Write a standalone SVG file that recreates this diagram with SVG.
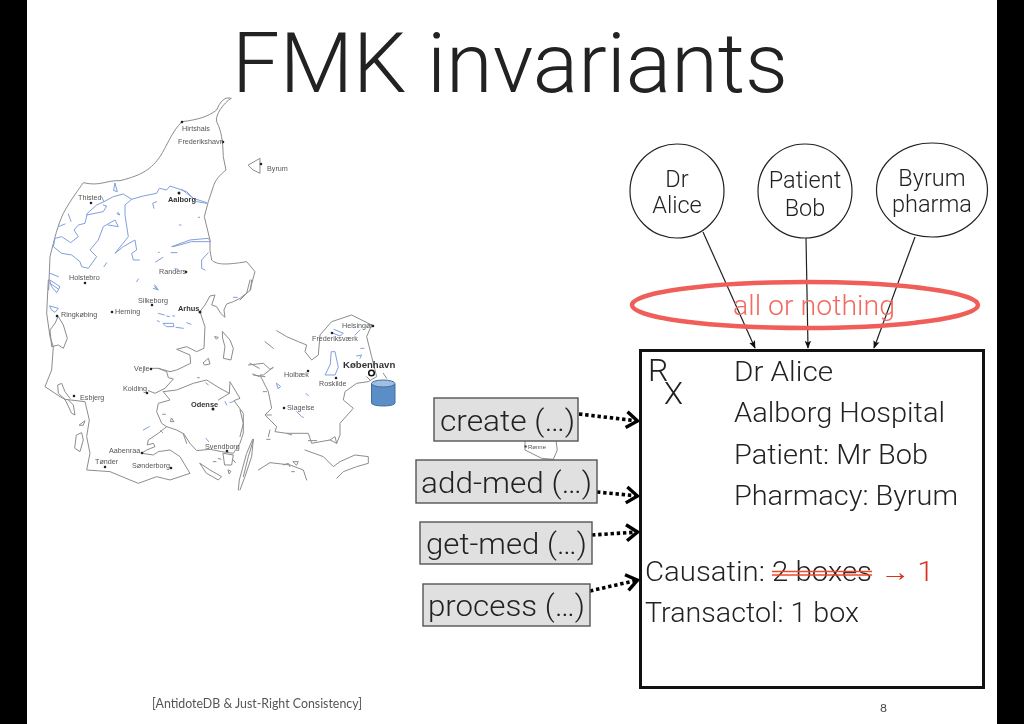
<svg xmlns="http://www.w3.org/2000/svg" width="1024" height="724" viewBox="0 0 1024 724">
<defs>
<style>
.coast{fill:none;stroke:#8c8c8c;stroke-width:3;stroke-linejoin:round;stroke-linecap:round}
.lake{fill:none;stroke:#7f9fdc;stroke-width:3;stroke-linejoin:round;stroke-linecap:round}
.city{font:7.2px "Liberation Sans",Arial,sans-serif;fill:#555}
.big{font:bold 7.4px "Liberation Sans",Arial,sans-serif;fill:#333}
.dot{fill:#222}
.t{font-family:"Roboto","Liberation Sans",Arial,sans-serif;font-weight:300;fill:#222}
.rx{font-size:27px}
.op{fill:#e0e0e0;stroke:#555;stroke-width:1.4}
.opt{font-size:29px}
.act{fill:#fff;stroke:#222;stroke-width:1.2}
.actt{font-size:23.5px;text-anchor:middle}
.arr{fill:none;stroke:#222;stroke-width:1.2;marker-end:url(#thin)}
.dots{fill:none;stroke:#000;stroke-width:3.6;stroke-dasharray:3.4 2.8;marker-end:url(#open)}
</style>
<marker id="thin" viewBox="0 0 10 10" refX="9" refY="5" markerUnits="userSpaceOnUse" markerWidth="8" markerHeight="8" orient="auto"><path d="M0,1 L10,5 L0,9 L2,5 z" fill="#111"/></marker>
<marker id="open" viewBox="0 0 16 20" refX="14.500" refY="10" markerUnits="userSpaceOnUse" markerWidth="16" markerHeight="20" orient="auto"><path d="M3,2 L14,10 L3,18" fill="none" stroke="#000" stroke-width="3.4"/></marker>
<filter id="soft" x="-2%" y="-2%" width="104%" height="104%"><feGaussianBlur stdDeviation="0.3"/></filter>
</defs>
<rect width="1024" height="724" fill="#fff"/>
<rect x="0" y="0" width="27" height="724" fill="#000"/>
<rect x="997" y="0" width="27" height="724" fill="#000"/>
<text id="title" class="t" x="232" y="92" font-size="84" textLength="556" lengthAdjust="spacingAndGlyphs">FMK invariants</text>

<g id="map" filter="url(#soft)">
<g id="map-north" transform="translate(0,90) scale(.3333)">
<path class="coast" d="M693,25 C675,18 660,35 650,60 C625,80 590,90 546,95 C515,125 500,170 480,200 C455,235 430,255 360,272 C320,270 300,290 250,278 C235,300 215,325 190,370 C172,410 165,440 150,500 L146,600"/>
<path class="coast" d="M693,25 C670,40 645,75 650,95 C665,125 668,150 670,200 L678,240 C660,255 645,270 640,290 L625,335 L613,380 L630,450 L630,480 L635,510 C650,525 680,525 740,515 L765,545 L750,600"/>
<path class="coast" d="M745,225 L780,205 L780,250 L760,240 z"/>
<path class="lake" d="M620,340 L590,335 L560,305 L510,288 L500,300 L478,295 L470,310 L430,318 L395,328 L375,345 L375,375 L385,440 L365,465 L345,490 L370,470 L405,450 L410,480 L395,490 L400,510 L418,510"/>
<path class="lake" d="M395,328 L370,312 L340,320 L312,335 L305,320 M312,335 L290,345 L262,370 L255,400 L235,405 L222,420 L235,440 L212,458 L185,440 L165,445 L160,470 L185,490 L215,495 L240,515 L245,530 L265,535 L290,500 L270,480 L295,450 L310,410 L345,390 L355,410 L325,405 M260,375 L310,365 L320,348 L310,345 M620,338 L580,325 L545,298 M462,355 L458,340 L470,335"/>
<path class="lake" d="M345,280 L352,305 L342,302 z M205,372 L213,394 M175,410 L195,402 M320,518 L312,530 M467,516 L489,502 M515,470 L570,450 L625,445 L632,455 L575,455 L520,470 M513,488 L531,488 M625,488 L605,510 L605,535 L615,540 M595,382 h4 M538,405 h5 M475,487 h3 M410,575 l5,-8 M463,588 l8,10 M150,550 L175,560 M150,580 L175,597 M525,536 L535,538 M355,368 L360,375 L352,372 z"/>
</g>
<g id="map-mid" transform="translate(30,280) scale(.3333)">
<path class="coast" d="M55,0 L50,100 L60,170 L70,200 L65,270 L45,320 L90,350 L105,358 M105,358 L165,365 L178,420 L170,470 L180,520 L170,570 L240,575 L300,600 L325,610 L380,590 L400,595 L420,600 L450,590 L480,580 L450,530 L420,510 L385,515 L370,525 L335,520 L350,510 L375,500 L370,490 L352,495 L355,480 L385,460 L410,440 L395,430 L380,395 L385,370 L420,360 L400,335 M105,358 L85,340 L83,315 L95,310 L105,335 L120,355 M105,358 L125,400 L135,405 L130,375 L115,360"/>
<path class="coast" d="M665,0 L662,30 L630,55 L610,65 L590,72 L582,90 L585,112 L572,100 L560,80 L545,75 L555,45 L540,48 L525,75 L510,95 L525,140 L522,205 L500,215 L470,200 L440,208 L480,225 L482,250 L440,270 L420,275 L385,265 L365,265 M385,265 L410,275 L415,293 L430,297 L405,325 L375,340 L355,332"/>
<path class="coast" d="M400,335 L440,330 L490,310 L530,300 L570,325 L598,340 L600,305 L630,355 L612,362 L640,400 L640,460 L630,490 L610,520 L575,515 L540,508 L500,512 L480,490 L462,462 L440,450 L410,440 M598,340 L565,360"/>
<path class="coast" d="M85,110 L100,135 L112,175 L100,205 L85,195 L65,200 L60,150 L75,130 z M140,465 L155,458 L160,480 L150,515 L135,505 z M148,435 L165,422 L160,435 z"/>
<path class="coast" d="M578,155 L600,180 L610,205 L603,240 L580,235 L585,200 L578,175 z M520,248 L535,235 L540,252 L525,255 z M555,170 L565,172 L560,177 z M510,550 L540,570 L575,590 L565,600 L530,580 z M580,520 L610,525 L605,555 L585,555 z M668,478 L650,520 L628,600 L625,630 M670,478 L665,530 L645,590 L630,630 M550,545 h8 M565,535 l8,3 M595,570 l8,4 l-5,7 z M460,462 L470,490 M610,540 l6,8 M660,250 L688,265 M668,282 L688,290 M425,415 L432,425 L422,425 z M398,403 h8 M503,293 h5 M528,308 L535,315"/>
<path class="lake" d="M60,0 L90,20 L80,38 L65,20 z M60,78 L85,85 L75,97 L65,90 z M375,15 L385,30 L370,25 M385,100 L403,105 M410,108 L418,110 M428,108 L434,108 M382,122 L388,125 M400,130 L430,130 L432,140 L410,140 z M438,142 L460,145 M470,128 L483,133 M610,52 h12 M340,450 L358,440 M392,452 l6,6 M528,475 l8,10 M585,365 l5,10 M600,368 l10,-3"/>
</g>
<g id="map-east" transform="translate(240,280) scale(.3333)">
<path class="coast" d="M25,255 L70,250 L90,268 L100,262 L70,285 L60,285 L85,335 L95,385 L75,405 L110,440 L105,455 L140,460 L205,460 L215,490 L270,480 L290,490 L300,465 L300,430 L340,385 L310,360 L315,335 L350,310 L385,305 L410,290 L395,230 L380,170 L395,135 L335,105 L275,125 L240,165 L235,225 L215,240 L195,215 L200,195 L175,185 L140,170 L110,152"/>
<path class="coast" d="M75,185 L100,205 M40,285 L75,290 M55,570 L90,548 L150,555 L190,570 L200,600 M195,510 L250,530 L280,560 L300,545 L345,525 L385,530 L385,550 L350,560 L310,575 L290,595 M40,480 L25,530 L10,590 M30,0 L20,40 L0,60 M0,390 L10,430 L0,470 M70,335 h10 M80,405 h14 M140,460 l15,5 M85,470 l5,-20 M80,478 h10 M205,482 h25 M270,480 L285,470 L290,490 M130,555 L145,550 L150,560 M160,545 L175,545 L170,555 z M155,575 h8 M380,290 L390,300 M430,280 L440,295"/>
<path class="lake" d="M275,215 L285,215 L295,262 L285,285 L255,285 L270,255 z M282,148 L310,160 L300,168 L280,160 M345,165 L360,150 M362,205 h10 M350,228 L365,225 L360,235 M110,310 L122,320 L115,325 z M198,340 L206,348 M170,395 L185,410 L190,412"/>
</g>
<g id="map-dots">
<circle class="dot" cx="182" cy="122" r="1.3"/><circle class="dot" cx="223" cy="142" r="1.3"/><circle class="dot" cx="261" cy="164" r="1.3"/><circle class="dot" cx="91" cy="203" r="1.3"/><circle class="dot" cx="179" cy="193" r="1.5"/><circle class="dot" cx="186" cy="272" r="1.3"/><circle class="dot" cx="85" cy="283" r="1.3"/><circle class="dot" cx="57" cy="316" r="1.3"/><circle class="dot" cx="112" cy="312" r="1.3"/><circle class="dot" cx="152" cy="305" r="1.3"/><circle class="dot" cx="200" cy="312" r="1.5"/><circle class="dot" cx="151" cy="369" r="1.3"/><circle class="dot" cx="147" cy="393" r="1.3"/><circle class="dot" cx="74" cy="396" r="1.3"/><circle class="dot" cx="213" cy="409" r="1.5"/><circle class="dot" cx="227" cy="451" r="1.3"/><circle class="dot" cx="142" cy="453" r="1.3"/><circle class="dot" cx="105" cy="467" r="1.3"/><circle class="dot" cx="171" cy="468" r="1.3"/><circle class="dot" cx="373" cy="326" r="1.3"/><circle class="dot" cx="332" cy="333" r="1.3"/><circle class="dot" cx="308" cy="371" r="1.3"/><circle class="dot" cx="336" cy="378" r="1.3"/><circle class="dot" cx="284" cy="408" r="1.3"/>
</g>
<g id="map-labels">
<text class="city" x="182" y="131">Hirtshals</text><text class="city" x="178" y="144">Frederikshavn</text><text class="city" x="267" y="171" font-size="6">Byrum</text><text class="city" x="78" y="200">Thisted</text><text class="big" x="168" y="202">Aalborg</text><text class="city" x="159" y="274">Randers</text><text class="city" x="69" y="280">Holstebro</text><text class="city" x="61" y="317">Ringkøbing</text><text class="city" x="115" y="314">Herning</text><text class="city" x="138" y="303">Silkeborg</text><text class="big" x="178" y="311">Arhus</text><text class="city" x="134" y="371">Vejle</text><text class="city" x="123" y="391">Kolding</text><text class="city" x="80" y="400">Esbjerg</text><text class="big" x="191" y="407">Odense</text><text class="city" x="205" y="449">Svendborg</text><text class="city" x="109" y="453">Aabenraa</text><text class="city" x="95" y="464">Tønder</text><text class="city" x="132" y="468">Sønderborg</text><text class="city" x="342" y="328">Helsingør</text><text class="city" x="312" y="341">Frederiksværk</text><text class="city" x="284" y="377">Holbæk</text><text class="city" x="319" y="386">Roskilde</text><text class="city" x="287" y="410">Slagelse</text>
<text x="343" y="368" font-family="Liberation Sans,Arial,sans-serif" font-weight="bold" font-size="9.6" fill="#333">København</text>
<text class="city" x="528" y="449" style="font-size:6px">Rønne</text>
</g>
<circle cx="525.500" cy="446.500" r="1.200" class="dot"/>
<path class="coast" transform="translate(410,390) scale(.3333)" d="M345,152 L345,180 L395,205 L430,208 L442,180 L438,152"/>
</g>
<g id="copenhagen">
<circle cx="371.500" cy="373" r="2.800" fill="#fff" stroke="#111" stroke-width="1.500"/>
</g>
<g id="db">
<path d="M371.500,384 V403 C371.500,407 395,407 395,403 V384 z" fill="#5b8ec6" stroke="#3f6ea3" stroke-width="1"/>
<ellipse cx="383.200" cy="383.500" rx="11.700" ry="3.500" fill="#a3bfe0" stroke="#3f6ea3" stroke-width="1"/>
</g>

<g id="connectors">
<path class="arr" d="M703,232 L755,348"/>
<path class="arr" d="M806,237 L808,348"/>
<path class="arr" d="M915,237 L874,348"/>
<path class="dots" d="M579,414 L638,421"/>
<path class="dots" d="M597,492 L638,496"/>
<path class="dots" d="M592,535 L638,532"/>
<path class="dots" d="M590,591 L638,580"/>
</g>

<g id="node-alice"><circle class="act" cx="677" cy="191" r="47"/><text class="t actt" x="677" y="187">Dr</text><text class="t actt" x="677" y="213">Alice</text></g>
<g id="node-bob"><circle class="act" cx="805" cy="191" r="47"/><text class="t actt" x="805" y="188">Patient</text><text class="t actt" x="805" y="216">Bob</text></g>
<g id="node-byrum"><ellipse class="act" cx="932" cy="190" rx="55.500" ry="47"/><text class="t actt" x="932" y="186">Byrum</text><text class="t actt" x="932" y="212">pharma</text></g>

<g id="node-all-or-nothing">
<ellipse cx="805" cy="305" rx="173" ry="23" fill="none" stroke="#ef5e58" stroke-width="4.500"/>
<text class="t" x="733" y="315" font-size="27" fill="#f26a60" style="fill:#f26a60" textLength="162" lengthAdjust="spacingAndGlyphs">all or nothing</text>
</g>

<g id="node-rx">
<rect x="640.500" y="350.500" width="343" height="337" fill="none" stroke="#111" stroke-width="3"/>
<text class="t" x="648" y="381" font-size="32">R</text>
<text class="t" x="664" y="404" font-size="31">X</text>
<text class="t rx" x="734" y="381" textLength="99" lengthAdjust="spacingAndGlyphs">Dr Alice</text>
<text class="t rx" x="734" y="422" textLength="211" lengthAdjust="spacingAndGlyphs">Aalborg Hospital</text>
<text class="t rx" x="734" y="464" textLength="194" lengthAdjust="spacingAndGlyphs">Patient: Mr Bob</text>
<text class="t rx" x="734" y="505" textLength="224" lengthAdjust="spacingAndGlyphs">Pharmacy: Byrum</text>
<text class="t rx" x="645" y="581" textLength="227" lengthAdjust="spacingAndGlyphs">Causatin: 2 boxes</text>
<path d="M772,571.500 H872 M772,575 H872" fill="none" stroke="#ee4a2a" stroke-width="1.700"/>
<text class="t rx" x="880" y="581" style="fill:#d9321e" textLength="54" lengthAdjust="spacingAndGlyphs">→ 1</text>
<text class="t rx" x="645" y="622" textLength="214" lengthAdjust="spacingAndGlyphs">Transactol: 1 box</text>
</g>

<g id="node-create"><rect class="op" x="434" y="398" width="144" height="43"/><text class="t opt" x="440" y="431" textLength="135" lengthAdjust="spacingAndGlyphs">create (…)</text></g>
<g id="node-add-med"><rect class="op" x="416" y="460" width="181" height="43"/><text class="t opt" x="421" y="493" textLength="171" lengthAdjust="spacingAndGlyphs">add-med (…)</text></g>
<g id="node-get-med"><rect class="op" x="420" y="522" width="172" height="42"/><text class="t opt" x="426" y="554" textLength="161" lengthAdjust="spacingAndGlyphs">get-med (…)</text></g>
<g id="node-process"><rect class="op" x="423" y="584" width="167" height="42"/><text class="t opt" x="428" y="616" textLength="157" lengthAdjust="spacingAndGlyphs">process (…)</text></g>

<text id="citation" x="152" y="708" font-family="Lato,Liberation Sans,sans-serif" font-size="14" fill="#555" textLength="210" lengthAdjust="spacingAndGlyphs">[AntidoteDB &amp; Just-Right Consistency]</text>
<text id="page" x="880" y="712" font-family="Lato,Liberation Sans,sans-serif" font-size="12" fill="#444">8</text>
</svg>
